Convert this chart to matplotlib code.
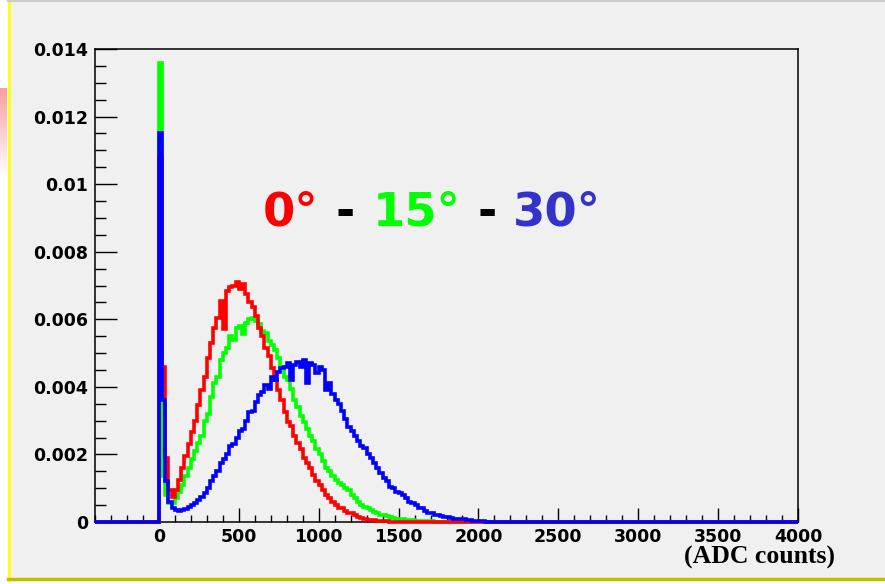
import numpy as np
import matplotlib.pyplot as plt
from matplotlib.ticker import MultipleLocator, FuncFormatter
from matplotlib.patches import Rectangle
from matplotlib.lines import Line2D
from matplotlib.colors import LinearSegmentedColormap

# histogram contents, bins of 20 ADC counts starting at 0 (units of 1e-3)
bin_width = 20
red_0deg = [10.8, 4.6, 1.9, 0.95, 0.75, 0.95, 1.25, 1.6, 1.95, 2.3,
            2.65, 3.0, 3.45, 3.9, 4.3, 4.85, 5.3, 5.75, 6.05, 6.55,
            5.7, 6.85, 6.95, 7.0, 7.1, 6.9, 7.05, 6.75, 6.5, 6.35,
            6.1, 5.75, 5.5, 5.15, 4.9, 4.55, 4.2, 3.9, 3.6, 3.25,
            2.95, 2.85, 2.55, 2.35, 2.15, 1.9, 1.75, 1.6, 1.4, 1.2,
            1.1, 0.95, 0.8, 0.7, 0.6, 0.5, 0.42, 0.4, 0.33, 0.28,
            0.27, 0.2, 0.15, 0.12, 0.09, 0.07, 0.05, 0.05, 0.03, 0.03,
            0.02, 0.02, 0.01, 0.01, 0.01]
green_15deg = [13.6, 1.35, 0.8, 0.55, 0.55, 0.7, 0.9, 1.1, 1.35, 1.6,
               1.85, 2.1, 2.35, 2.55, 3.0, 3.2, 3.7, 4.1, 4.3, 4.8,
               5.0, 5.15, 5.5, 5.4, 5.75, 5.8, 5.55, 5.9, 6.0, 6.05,
               5.95, 5.85, 5.65, 5.6, 5.35, 5.25, 5.1, 4.85, 4.6, 4.3,
               4.2, 3.95, 3.6, 3.4, 3.15, 2.95, 2.75, 2.55, 2.4, 2.15,
               2.0, 1.8, 1.6, 1.5, 1.35, 1.25, 1.15, 1.1, 1.0, 0.95,
               0.8, 0.7, 0.6, 0.5, 0.45, 0.4, 0.35, 0.3, 0.27, 0.22,
               0.2, 0.18, 0.15, 0.13, 0.1, 0.09, 0.08, 0.06, 0.05, 0.05,
               0.04, 0.03, 0.03, 0.02, 0.02, 0.02, 0.01, 0.01, 0.01, 0.01]
blue_30deg = [11.5, 3.6, 1.2, 0.6, 0.4, 0.35, 0.32, 0.35, 0.38, 0.45,
              0.5, 0.55, 0.65, 0.75, 0.85, 1.0, 1.2, 1.35, 1.5, 1.75,
              1.85, 2.0, 2.25, 2.3, 2.5, 2.7, 2.75, 3.0, 3.25, 3.3,
              3.55, 3.75, 3.85, 4.05, 3.95, 4.3, 4.2, 4.45, 4.55, 4.6,
              4.7, 4.2, 4.65, 4.75, 4.6, 4.8, 4.1, 4.7, 4.65, 4.4,
              4.6, 4.5, 3.9, 4.1, 3.8, 3.6, 3.5, 3.3, 3.05, 2.8,
              2.7, 2.55, 2.4, 2.25, 2.2, 2.0, 1.9, 1.75, 1.6, 1.45,
              1.3, 1.2, 1.05, 1.0, 0.9, 0.85, 0.8, 0.7, 0.6, 0.55,
              0.5, 0.42, 0.4, 0.33, 0.28, 0.26, 0.22, 0.2, 0.18, 0.16,
              0.15, 0.12, 0.1, 0.1, 0.08, 0.08, 0.06, 0.05, 0.04, 0.03,
              0.02, 0.02, 0.01, 0.01]

x_min, x_max = -400, 4000
edges = np.arange(x_min, x_max + bin_width, bin_width)
n_lead = (0 - x_min) // bin_width


def full_hist(vals):
    h = np.zeros(len(edges) - 1)
    h[n_lead:n_lead + len(vals)] = np.array(vals) * 1e-3
    return h


bg = '#f0f0f0'
fig = plt.figure(figsize=(8.85, 5.84), dpi=100, facecolor=bg)
ax = fig.add_axes([95 / 885, 1 - 522 / 584, 703 / 885, 473 / 584], facecolor=bg)

for vals, col in [(green_15deg, '#00ff00'), (red_0deg, '#ff0000'), (blue_30deg, '#0000ff')]:
    ax.stairs(full_hist(vals), edges, color=col, lw=2.6, clip_on=False, zorder=3)

ax.set_xlim(x_min, x_max)
ax.set_ylim(0, 0.014)

for s in ax.spines.values():
    s.set_linewidth(1.1)
ax.xaxis.set_major_locator(MultipleLocator(500))
ax.xaxis.set_minor_locator(MultipleLocator(100))
ax.yaxis.set_major_locator(MultipleLocator(0.002))
ax.yaxis.set_minor_locator(MultipleLocator(0.0005))
ax.yaxis.set_major_formatter(FuncFormatter(lambda v, p: '0' if abs(v) < 1e-12 else '%g' % v))
ax.xaxis.set_major_formatter(FuncFormatter(lambda v, p: '%d' % v))
ax.tick_params(axis='y', which='major', direction='in', length=15.5, width=1, pad=5)
ax.tick_params(axis='y', which='minor', direction='in', length=8, width=1)
ax.tick_params(axis='x', which='major', direction='in', length=10, width=1, pad=4)
ax.tick_params(axis='x', which='minor', direction='in', length=5, width=1)
for lab in ax.get_xticklabels() + ax.get_yticklabels():
    lab.set_fontweight('bold')
    lab.set_fontsize(12.5)
    lab.set_family('DejaVu Sans')

fig.text(835 / 885, 1 - 557 / 584, '(ADC counts)', ha='right', va='center',
         family='Liberation Serif', fontweight='bold', fontsize=18.5)

# coloured angle labels
y_lab = 1 - 213 / 584
for x_px, txt, col in [(263, '0°', '#ff0000'), (336, '-', '#000000'), (373, '15°', '#00ff00'),
                       (478, '-', '#000000'), (513, '30°', '#3333cc')]:
    fig.text(x_px / 885, y_lab, txt, color=col, fontsize=33.5, fontweight='bold',
             family='DejaVu Sans', ha='left', va='center')

# frame decorations of the original canvas
fig.patches.append(Rectangle((0, 0), 8 / 885, 1, transform=fig.transFigure, color='white', zorder=0))
fig.patches.append(Rectangle((0, 0), 1, 4 / 584, transform=fig.transFigure, color='white', zorder=0))
fig.lines.append(Line2D([9 / 885, 9 / 885], [4 / 584, 1], transform=fig.transFigure, color='#ffff00', lw=2))
fig.lines.append(Line2D([8 / 885, 1], [5 / 584, 5 / 584], transform=fig.transFigure, color='#c0c000', lw=2.5))
fig.lines.append(Line2D([8 / 885, 1], [1 - 1 / 584, 1 - 1 / 584], transform=fig.transFigure, color='#cccccc', lw=1.5))
pax = fig.add_axes([0, 1 - 178 / 584, 7 / 885, 90 / 584], zorder=5)
pax.imshow(np.linspace(0, 1, 50).reshape(-1, 1),
           cmap=LinearSegmentedColormap.from_list('p', ['#f8a0a0', '#ffffff']), aspect='auto')
pax.axis('off')

fig.savefig('out.png', dpi=100, facecolor=bg)
